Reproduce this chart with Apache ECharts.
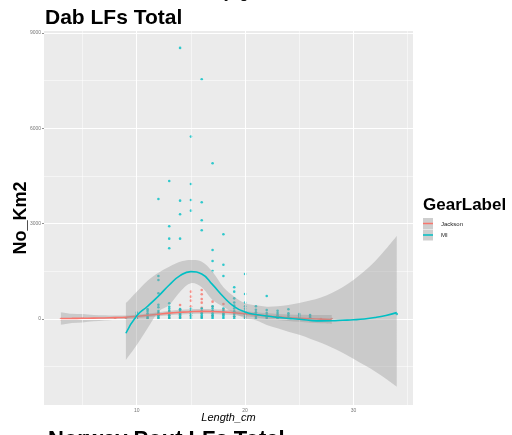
<!DOCTYPE html>
<html>
<head>
<meta charset="utf-8">
<script src="https://cdn.jsdelivr.net/npm/echarts@6/dist/echarts.min.js"></script>
<style>
html,body{margin:0;padding:0;background:#fff;}
#chart{width:512px;height:435px;}
</style>
</head>
<body>
<div id="chart"></div>
<script>
// ---- data ----
const xTicks = [10, 20, 30];
const yTicks = [0, 3000, 6000, 9000];
const xMinor = [5, 15, 25, 35];
const yMinor = [-1500, 1500, 4500, 7500];
const groups = ['Jackson', 'MI'];

const jacksonPoints = [
  [3,0],[5,10],[8,5],[9,10],
  [10,20],[10,60],[11,30],[11,100],
  [12,40],[12,120],[12,200],[13,30],[13,120],[13,250],
  [14,440],[14,300],[14,150],[14,50],
  [15,860],[15,703],[15,577],[15,400],[15,250],[15,100],
  [16,913],[16,777],[16,630],[16,514],[16,350],[16,200],[16,60],
  [17,545],[17,390],[17,250],[17,100],
  [18,472],[18,300],[18,150],[19,200],[19,80],[20,150],[20,50],
  [21,100],[22,60],[23,30],[24,20],[25,10],[26,5],[27,0],[28,0]
];

const miPoints = [
  [14,8531],[16,7546],[15,5739],[17,4901],[13,4344],[15,4250],[12,3778],[14,3724],
  [15,3746],[16,3673],[14,3296],[15,3409],[16,3107],[13,2918],[16,2792],[18,2666],
  [13,2528],[14,2528],[13,2225],[17,2172],[17,1826],[18,1709],[17,1511],[12,1354],
  [12,1228],[18,1354],[20,1417],[12,809],[19,998],[19,860],[20,787],[22,724],
  [13,494],[13,387],[12,450],[12,368],[20,514],[24,305],
  [10,20],[10,80],[10,140],[10,200],
  [11,10],[11,60],[11,120],[11,180],[11,250],[11,310],
  [12,10],[12,60],[12,120],[12,180],[12,250],
  [13,10],[13,60],[13,120],[13,180],[13,250],[13,320],
  [14,10],[14,60],[14,120],[14,180],[14,250],[14,310],
  [15,10],[15,60],[15,120],[15,180],[15,250],[15,320],
  [16,10],[16,60],[16,120],[16,180],[16,250],[16,330],
  [17,10],[17,60],[17,120],[17,180],[17,250],[17,330],[17,400],
  [18,10],[18,60],[18,120],[18,180],[18,250],[18,330],
  [19,10],[19,80],[19,160],[19,240],[19,330],[19,420],[19,520],[19,650],
  [20,10],[20,80],[20,150],[20,230],[20,320],[20,400],
  [21,10],[21,70],[21,140],[21,210],[21,290],[21,400],
  [22,10],[22,60],[22,120],[22,190],[22,280],
  [23,10],[23,60],[23,120],[23,190],[23,260],
  [24,10],[24,60],[24,120],[24,180],
  [25,10],[25,60],[25,110],[25,157],
  [26,10],[26,50],[26,90],[26,126],
  [34,157]
];

const jacksonX     = [3,4,5,6,7,8,9,10,11,12,13,14,15,16,17,18,19,20,21,22,23,24,25,26,27,28];
const jacksonFit   = [15,18,22,27,33,42,55,80,115,150,185,210,230,240,235,220,195,165,130,95,65,40,20,5,-5,-15];
const jacksonLower = [-185,-130,-110,-75,-50,-25,0,25,55,85,115,140,155,165,160,145,120,85,45,5,-30,-60,-90,-115,-135,-155];
const jacksonUpper = [215,166,154,129,116,109,110,135,175,215,255,280,305,315,310,295,270,245,215,185,160,140,130,125,125,125];

const miX     = [9,10,11,12,13,14,15,16,17,18,19,20,21,22,23,24,25,26,27,28,29,30,31,32,33,34];
const miFit   = [-450,104,400,720,1070,1363,1490,1417,1080,700,390,220,140,94,50,20,-10,-45,-60,-55,-40,-25,0,45,110,200];
const miLower = [-1290,-820,-290,230,440,860,1124,998,600,387,180,21,-40,-190,-290,-400,-500,-620,-750,-900,-1060,-1250,-1450,-1650,-1880,-2130];
const miUpper = [500,860,1206,1458,1647,1804,1857,1804,1490,998,703,494,430,387,400,440,500,580,680,820,1000,1230,1500,1820,2200,2613];

// ---- styles ----
const COLORS = { Jackson: '#F8766D', MI: '#00BFC4' };
const BAND = 'rgba(153,153,153,0.4)';
const FONT = '"Liberation Sans", Arial, Helvetica, sans-serif';

const pair = (xs, ys) => xs.map((x, i) => [x, ys[i]]);

// smooth path (Catmull-Rom -> cubic Bezier) through pixel points
function curveCmds(p) {
  let s = '';
  for (let i = 0; i < p.length - 1; i++) {
    const p0 = p[Math.max(i - 1, 0)], p1 = p[i], p2 = p[i + 1], p3 = p[Math.min(i + 2, p.length - 1)];
    const c1 = [p1[0] + (p2[0] - p0[0]) / 6, p1[1] + (p2[1] - p0[1]) / 6];
    const c2 = [p2[0] - (p3[0] - p1[0]) / 6, p2[1] - (p3[1] - p1[1]) / 6];
    s += ' C' + c1[0] + ' ' + c1[1] + ' ' + c2[0] + ' ' + c2[1] + ' ' + p2[0] + ' ' + p2[1];
  }
  return s;
}

function bandSeries(xs, lo, hi, z) {
  return {
    type: 'custom', z: z, silent: true, clip: true,
    data: xs.map((x, i) => [x, lo[i], hi[i]]),
    encode: { x: 0, y: [1, 2] },
    renderItem: function (params, api) {
      if (params.dataIndex !== 0) return null;
      const up = xs.map((x, i) => api.coord([x, hi[i]]));
      const dn = xs.map((x, i) => api.coord([x, lo[i]])).reverse();
      const d = 'M' + up[0][0] + ' ' + up[0][1] + curveCmds(up) +
        ' L' + dn[0][0] + ' ' + dn[0][1] + curveCmds(dn) + ' Z';
      return { type: 'path', shape: { pathData: d }, style: { fill: BAND, stroke: null } };
    }
  };
}

const gridMarks = [
  ...xMinor.map(v => ({ xAxis: v, lineStyle: { width: 0.5 } })),
  ...yMinor.map(v => ({ yAxis: v, lineStyle: { width: 0.5 } })),
  ...xTicks.map(v => ({ xAxis: v, lineStyle: { width: 1 } })),
  ...yTicks.map(v => ({ yAxis: v, lineStyle: { width: 1 } }))
];

const chart = echarts.init(document.getElementById('chart'), null, { renderer: 'canvas' });
chart.setOption({
  animation: false,
  backgroundColor: '#ffffff',
  grid: { left: 44, right: 99, top: 31, bottom: 30, show: true, backgroundColor: '#EBEBEB', borderWidth: 0 },
  xAxis: {
    type: 'value', min: 1.44, max: 35.5,
    splitLine: { show: false }, axisLine: { show: false },
    axisTick: { show: true, customValues: xTicks, length: 2, lineStyle: { color: '#444', width: 0.6 } },
    axisLabel: { customValues: xTicks, fontSize: 5, color: '#777', margin: 3, fontFamily: FONT,
      formatter: v => String(v) }
  },
  yAxis: {
    type: 'value', min: -2707, max: 9063,
    splitLine: { show: false }, axisLine: { show: false },
    axisTick: { show: true, customValues: yTicks, length: 2, lineStyle: { color: '#444', width: 0.6 } },
    axisLabel: { customValues: yTicks, fontSize: 5, color: '#777', margin: 3, fontFamily: FONT,
      formatter: v => String(v) }
  },
  series: [
    { type: 'line', data: [], silent: true, z: 0,
      markLine: { silent: true, symbol: 'none', label: { show: false },
        lineStyle: { color: '#ffffff', type: 'solid' }, data: gridMarks } },
    { name: 'Jackson', type: 'scatter', data: jacksonPoints, symbolSize: 2.6,
      itemStyle: { color: COLORS.Jackson }, z: 2 },
    { name: 'MI', type: 'scatter', data: miPoints, symbolSize: 2.6,
      itemStyle: { color: COLORS.MI }, z: 3 },
    bandSeries(jacksonX, jacksonLower, jacksonUpper, 4),
    { type: 'line', data: pair(jacksonX, jacksonFit), smooth: true, showSymbol: false, symbol: 'none',
      lineStyle: { color: COLORS.Jackson, width: 1.6 }, z: 5 },
    bandSeries(miX, miLower, miUpper, 6),
    { type: 'line', data: pair(miX, miFit), smooth: true, showSymbol: false, symbol: 'none',
      lineStyle: { color: COLORS.MI, width: 1.6 }, z: 7 }
  ],
  graphic: [
    { type: 'text', left: 200, top: -13, style: { text: 'Grey_gu', font: 'bold 14px ' + FONT, fill: '#111' } },
    { type: 'text', x: 45, y: 18.5, style: { text: 'Dab LFs Total', font: 'bold 21px ' + FONT, fill: '#000',
      textAlign: 'left', textVerticalAlign: 'middle' } },
    { type: 'text', x: 21, y: 218, rotation: Math.PI / 2, style: { text: 'No_Km2', font: 'bold 18px ' + FONT,
      fill: '#000', textAlign: 'center', textVerticalAlign: 'middle' } },
    { type: 'text', x: 228.5, y: 418, style: { text: 'Length_cm', font: 'italic 11px ' + FONT, fill: '#000',
      textAlign: 'center', textVerticalAlign: 'middle' } },
    { type: 'text', x: 48, y: 451, style: { text: 'Norway Pout LFs Total', font: 'bold 22px ' + FONT, fill: '#000',
      textAlign: 'left', textVerticalAlign: 'bottom' } },
    { type: 'text', x: 423, y: 205, style: { text: 'GearLabel', font: 'bold 17px ' + FONT, fill: '#000',
      textAlign: 'left', textVerticalAlign: 'middle' } },
    { type: 'rect', shape: { x: 423, y: 218, width: 10, height: 11 }, style: { fill: '#CECECE' } },
    { type: 'line', shape: { x1: 423, y1: 223.5, x2: 433, y2: 223.5 }, style: { stroke: COLORS.Jackson, lineWidth: 1.5 } },
    { type: 'rect', shape: { x: 423, y: 229.5, width: 10, height: 11 }, style: { fill: '#CECECE' } },
    { type: 'line', shape: { x1: 423, y1: 235, x2: 433, y2: 235 }, style: { stroke: COLORS.MI, lineWidth: 1.5 } },
    { type: 'text', x: 441, y: 224, style: { text: groups[0], font: '6px ' + FONT, fill: '#222',
      textAlign: 'left', textVerticalAlign: 'middle' } },
    { type: 'text', x: 441, y: 235.5, style: { text: groups[1], font: '6px ' + FONT, fill: '#222',
      textAlign: 'left', textVerticalAlign: 'middle' } }
  ]
});
</script>
</body>
</html>
